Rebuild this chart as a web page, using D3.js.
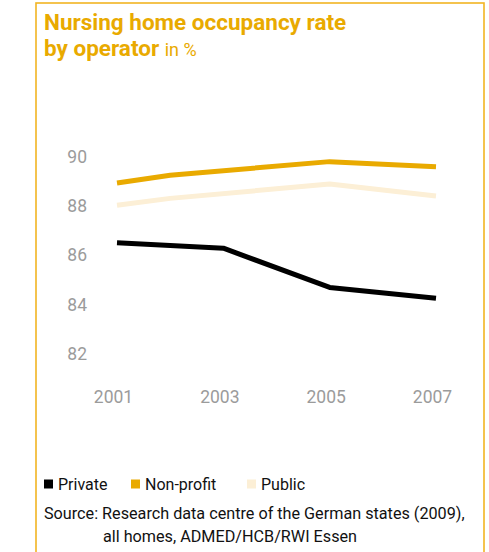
<!DOCTYPE html>
<html>
<head>
<meta charset="utf-8">
<script src="https://cdn.jsdelivr.net/npm/d3@7"></script>
<style>
  html, body { margin: 0; padding: 0; background: #fff; }
  svg { display: block; font-family: Roboto, "Noto Sans", sans-serif; }
</style>
</head>
<body>
<svg id="chart" width="489" height="552"></svg>
<script>
// Occupancy rate of nursing homes (%), by operator type
const yearTicks = [2001, 2003, 2005, 2007];
const valueTicks = [82, 84, 86, 88, 90];

const privateYears = [2001, 2003, 2005, 2007];
const privateRate = [86.51, 86.29, 84.70, 84.26];

const nonProfitYears = [2001, 2002, 2005, 2007];
const nonProfitRate = [88.93, 89.25, 89.80, 89.59];

const publicYears = [2001, 2002, 2005, 2007];
const publicRate = [88.03, 88.31, 88.89, 88.41];

const seriesNames = ["Private", "Non-profit", "Public"];
const seriesColors = ["#000000", "#e9aa00", "#fcefd6"];

const svg = d3.select("#chart");
const orange = "#e9aa00";

// frame
svg.append("rect")
  .attr("x", 36).attr("y", 3)
  .attr("width", 448).attr("height", 560)
  .attr("fill", "none")
  .attr("stroke", "#f2b522")
  .attr("stroke-width", 1.6);

// title
const title = svg.append("g").attr("fill", orange);
title.append("text")
  .attr("x", 44).attr("y", 30)
  .attr("font-size", 22.5).attr("font-weight", "bold")
  .text("Nursing home occupancy rate");
const t2 = title.append("text")
  .attr("x", 44).attr("y", 56)
  .attr("font-size", 22.5).attr("font-weight", "bold");
t2.append("tspan").text("by operator ");
t2.append("tspan").attr("font-weight", "normal").attr("font-size", 18).text("in %");

// scales
const x = d3.scaleLinear().domain([2001, 2007]).range([117, 436]);
const y = d3.scaleLinear().domain([82, 90]).range([354, 156.7]);

// y axis labels
const yAxis = svg.append("g")
  .attr("transform", "translate(87,0)")
  .call(d3.axisLeft(y).tickValues(valueTicks).tickSize(0).tickPadding(0).tickFormat(d3.format("d")));
yAxis.select(".domain").remove();
yAxis.selectAll("text")
  .attr("fill", "#9b9b9b")
  .attr("font-size", 17.5)
  .attr("font-family", "Roboto, sans-serif");

// x axis labels
const xAxis = svg.append("g")
  .attr("transform", "translate(0,397)")
  .call(d3.axisBottom(x).tickValues(yearTicks).tickSize(0).tickPadding(0).tickFormat(d3.format("d")));
xAxis.select(".domain").remove();
xAxis.selectAll("text")
  .attr("fill", "#9b9b9b")
  .attr("font-size", 17.5)
  .attr("font-family", "Roboto, sans-serif")
  .attr("dy", "0.35em")
  .attr("dx", -4);

// lines
const line = d3.line().x(d => x(d[0])).y(d => y(d[1]));
const series = [
  d3.zip(publicYears, publicRate),
  d3.zip(nonProfitYears, nonProfitRate),
  d3.zip(privateYears, privateRate)
];
const order = [2, 1, 0];
svg.append("g").selectAll("path")
  .data(series)
  .join("path")
  .attr("d", line)
  .attr("fill", "none")
  .attr("stroke", (d, i) => seriesColors[order[i]])
  .attr("stroke-width", 5)
  .attr("stroke-linejoin", "round")
  .attr("stroke-linecap", "butt");

// legend
const legendX = [44, 131, 247];
const legend = svg.append("g").selectAll("g")
  .data(seriesNames)
  .join("g")
  .attr("transform", (d, i) => `translate(${legendX[i]},484)`);
legend.append("rect")
  .attr("x", 0).attr("y", -4.5)
  .attr("width", 9).attr("height", 9)
  .attr("fill", (d, i) => seriesColors[i]);
legend.append("text")
  .attr("x", 14).attr("y", 0)
  .attr("dy", "0.35em")
  .attr("font-size", 16)
  .attr("fill", "#111")
  .text(d => d);

// source
const src = svg.append("g").attr("font-size", 16.2).attr("fill", "#111");
src.append("text").attr("x", 44).attr("y", 519)
  .text("Source: Research data centre of the German states (2009),");
src.append("text").attr("x", 103).attr("y", 542)
  .text("all homes, ADMED/HCB/RWI Essen");
</script>
</body>
</html>
